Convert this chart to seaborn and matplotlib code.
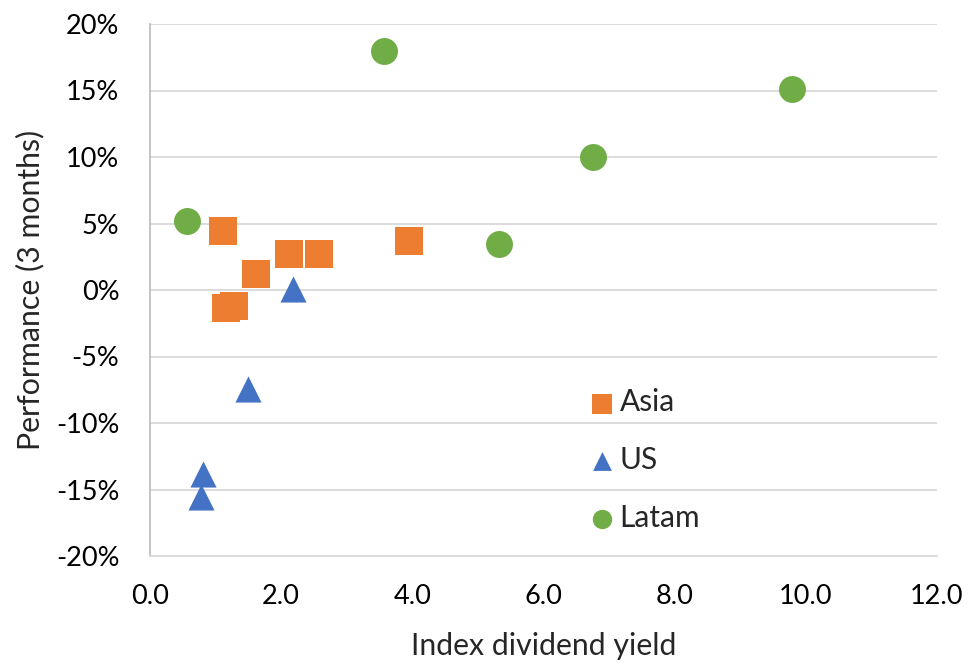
import matplotlib
matplotlib.use("Agg")
import matplotlib.pyplot as plt
import seaborn as sns
import pandas as pd
from matplotlib.ticker import FuncFormatter, MultipleLocator

# Data
asia_yield = [1.11, 1.62, 2.12, 2.58, 3.95, 1.16, 1.28]
asia_perf = [4.43, 1.19, 2.69, 2.69, 3.68, -1.38, -1.23]
us_yield = [2.18, 1.50, 0.81, 0.78]
us_perf = [0.08, -7.46, -13.85, -15.54]
latam_yield = [0.56, 3.57, 5.32, 6.76, 9.79]
latam_perf = [5.20, 17.97, 3.45, 10.02, 15.13]

regions = ["Asia", "US", "Latam"]
colors = {"Asia": "#ED7D31", "US": "#4472C4", "Latam": "#70AD47"}
markers = {"Asia": "s", "US": "^", "Latam": "o"}
msizes = {"Asia": 20.2, "US": 18.8, "Latam": 19.4}

df = pd.concat([
    pd.DataFrame({"yield": asia_yield, "perf": asia_perf, "region": "Asia"}),
    pd.DataFrame({"yield": us_yield, "perf": us_perf, "region": "US"}),
    pd.DataFrame({"yield": latam_yield, "perf": latam_perf, "region": "Latam"}),
])

sns.set_theme(style="white")
plt.rcParams["font.family"] = ["Lato", "DejaVu Sans"]

fig = plt.figure(figsize=(9.69, 6.64), dpi=100)
ax = fig.add_axes([150 / 969, 1 - 556 / 664, (937 - 150) / 969, (556 - 24) / 664])

for r in regions:
    sub = df[df["region"] == r]
    sns.scatterplot(data=sub, x="yield", y="perf", ax=ax, color=colors[r],
                    marker=markers[r], s=msizes[r] ** 2, linewidth=0,
                    label=r, zorder=3)

ax.set_xlim(0, 12)
ax.set_ylim(-20, 20)
ax.xaxis.set_major_locator(MultipleLocator(2))
ax.yaxis.set_major_locator(MultipleLocator(5))
ax.xaxis.set_major_formatter(FuncFormatter(lambda v, p: f"{v:.1f}"))
ax.yaxis.set_major_formatter(FuncFormatter(lambda v, p: f"{v:.0f}%"))

ax.grid(axis="y", color="#d9d9d9", linewidth=1.3, zorder=0)
ax.grid(axis="x", visible=False)
for s in ["top", "right"]:
    ax.spines[s].set_visible(False)
ax.spines["bottom"].set_color("#d9d9d9")
ax.spines["bottom"].set_linewidth(1.3)
ax.spines["left"].set_color("#bfbfbf")
ax.spines["left"].set_linewidth(1.3)

ax.tick_params(axis="both", length=0, labelsize=19.5, colors="black")
ax.tick_params(axis="y", pad=22)
ax.tick_params(axis="x", pad=20)

ax.set_xlabel("Index dividend yield", fontsize=21.8, labelpad=17)
ax.set_ylabel("Performance (3 months)", fontsize=21.8, labelpad=8)

leg = ax.legend(loc="upper left", bbox_to_anchor=(0.532, 0.343), frameon=False,
                fontsize=21.5, markerscale=0.72, labelspacing=1.0,
                handletextpad=0.0, handlelength=1.2, borderpad=0)

fig.savefig("out.png", dpi=100)
